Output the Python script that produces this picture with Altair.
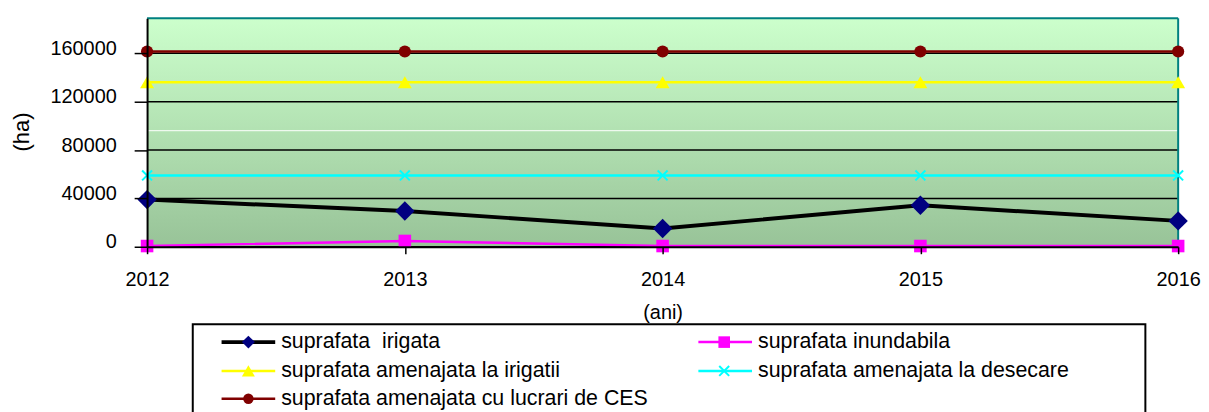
import altair as alt
import pandas as pd

# ---------------- data ----------------
years = [2012, 2013, 2014, 2015, 2016]
s_irigata = [39000, 29600, 15100, 34300, 21400]
s_inundabila = [600, 4800, 600, 600, 600]
s_amen_irigatii = [136000, 136000, 136000, 136000, 136000]
s_amen_desecare = [59000, 59000, 59000, 59000, 59000]
s_amen_ces = [161500, 161500, 161500, 161500, 161500]

series_names = [
    "suprafata \u00a0irigata",
    "suprafata inundabila",
    "suprafata amenajata la irigatii",
    "suprafata amenajata la desecare",
    "suprafata amenajata cu lucrari de CES",
]
series_values = [s_irigata, s_inundabila, s_amen_irigatii, s_amen_desecare, s_amen_ces]

y_ticks = [0, 40000, 80000, 120000, 160000]
y_max = 189000
y_title = "(ha)"
x_title = "(ani)"

# ---------------- styles ----------------
FONT = "Liberation Sans"
W, H = 1038, 230
X_PATH = "M-1,-1L1,1M-1,1L1,-1"

styles = [
    dict(line="#000000", lw=4, shape="diamond", fill="#000080", stroke=None, size=380, lsize=170, filled=True),
    dict(line="#FF00FF", lw=2.5, shape="square", fill="#FF00FF", stroke=None, size=160, lsize=136, filled=True),
    dict(line="#FFFF00", lw=2.5, shape="triangle-up", fill="#FFFF00", stroke=None, size=196, lsize=170, filled=True),
    dict(line="#00FFFF", lw=2.5, shape=X_PATH, fill=None, stroke="#00FFFF", size=100, lsize=100, filled=False),
    dict(line="#800000", lw=2.5, shape="circle", fill="#800000", stroke=None, size=150, lsize=110, filled=True),
]

xs = alt.Scale(domain=[2012, 2016], nice=False, zero=False)
ys = alt.Scale(domain=[0, y_max], nice=False, zero=False)

yaxis = alt.Axis(
    values=y_ticks, format="d", title=y_title, grid=False,
    domainColor="black", domainWidth=2, tickColor="black", tickWidth=1.5, tickSize=13,
    labelFontSize=20, labelFont=FONT, labelColor="black", labelPadding=18,
    labelBaseline="alphabetic", labelOffset=1, labelOverlap=False, labelBound=False,
    titleFontSize=22, titleFont=FONT, titleFontWeight="normal", titleColor="black",
    titleAngle=270, titleX=-126, titleY=114, titleAlign="center", titleBaseline="middle",
    zindex=1,
)
xaxis = alt.Axis(
    values=years, format="d", title=x_title, grid=False,
    domainColor="black", domainWidth=2, tickColor="black", tickWidth=1.5, tickSize=7,
    labelFontSize=20, labelFont=FONT, labelColor="black", labelPadding=16,
    labelOverlap=False, labelFlush=False, labelBound=False,
    titleFontSize=20, titleFont=FONT, titleFontWeight="normal", titleColor="black",
    titleX=519, titleY=66, titleAlign="center", titleBaseline="middle",
    zindex=1,
)

one = pd.DataFrame({"a": [0]})

# background gradient
bg = alt.Chart(one).mark_rect(
    color=alt.LinearGradient(
        gradient="linear",
        stops=[alt.GradientStop(offset=0, color="#CCFFCC"),
               alt.GradientStop(offset=1, color="#98C398")],
        x1=0, x2=0, y1=0, y2=1,
    )
).encode(x=alt.value(0), x2=alt.value(W), y=alt.value(0), y2=alt.value(H))

white_line = alt.Chart(pd.DataFrame({"v": [96000]})).mark_rule(color="white", strokeWidth=1).encode(
    y=alt.Y("v:Q", scale=ys, axis=yaxis)
)

grid = alt.Chart(pd.DataFrame({"v": y_ticks})).mark_rule(color="black", strokeWidth=1.5).encode(
    y=alt.Y("v:Q", scale=ys, axis=yaxis)
)

top_border = alt.Chart(pd.DataFrame({"v": [y_max]})).mark_rule(color="#008080", strokeWidth=2).encode(
    y=alt.Y("v:Q", scale=ys, axis=yaxis)
)
right_border = alt.Chart(pd.DataFrame({"yr": [years[-1]]})).mark_rule(color="#008080", strokeWidth=2).encode(
    x=alt.X("yr:Q", scale=xs, axis=xaxis)
)

layers = [bg, white_line, grid, top_border, right_border]

for name, vals, st in zip(series_names, series_values, styles):
    df = pd.DataFrame({"year": years, "value": vals, "series": name})
    base = alt.Chart(df).encode(
        x=alt.X("year:Q", scale=xs, axis=xaxis),
        y=alt.Y("value:Q", scale=ys, axis=yaxis),
    )
    layers.append(base.mark_line(color=st["line"], strokeWidth=st["lw"]))
    pkw = dict(shape=st["shape"], size=st["size"], opacity=1, filled=st["filled"])
    if st["filled"]:
        pkw.update(fill=st["fill"], strokeWidth=0)
    else:
        pkw.update(stroke=st["stroke"], strokeWidth=2, fillOpacity=0)
    layers.append(base.mark_point(**pkw))

# ---------------- custom legend (below plot) ----------------
legend_box = alt.Chart(one).mark_rect(fill="white", fillOpacity=0, stroke="black", strokeWidth=2).encode(
    x=alt.value(46), x2=alt.value(1005), y=alt.value(308), y2=alt.value(440)
)
layers.append(legend_box)

col_x = [(75, 129, 102, 135), (555, 609, 581, 615)]
row_y = [326, 355, 383]
for i, (name, st) in enumerate(zip(series_names, styles)):
    c = col_x[i % 2]
    r = row_y[i // 2]
    ldf = pd.DataFrame({"label": [name]})
    lb = alt.Chart(ldf)
    layers.append(lb.mark_rule(color=st["line"], strokeWidth=st["lw"]).encode(
        x=alt.value(c[0]), x2=alt.value(c[1]), y=alt.value(r)))
    pkw = dict(shape=st["shape"], size=st["lsize"], opacity=1, filled=st["filled"])
    if st["filled"]:
        pkw.update(fill=st["fill"], strokeWidth=0)
    else:
        pkw.update(stroke=st["stroke"], strokeWidth=2, fillOpacity=0)
    layers.append(lb.mark_point(**pkw).encode(x=alt.value(c[2]), y=alt.value(r)))
    layers.append(lb.mark_text(align="left", baseline="middle", font=FONT, fontSize=21.5, color="black").encode(
        x=alt.value(c[3]), y=alt.value(r), text="label:N"))

chart = alt.layer(*layers).properties(
    width=W, height=H,
    autosize=alt.AutoSizeParams(type="none"),
    padding={"left": 140, "top": 9, "right": 23, "bottom": 165},
    background="white",
).configure_view(stroke=None)

chart.save("out.html", embed_options={"renderer": "svg", "actions": False})
